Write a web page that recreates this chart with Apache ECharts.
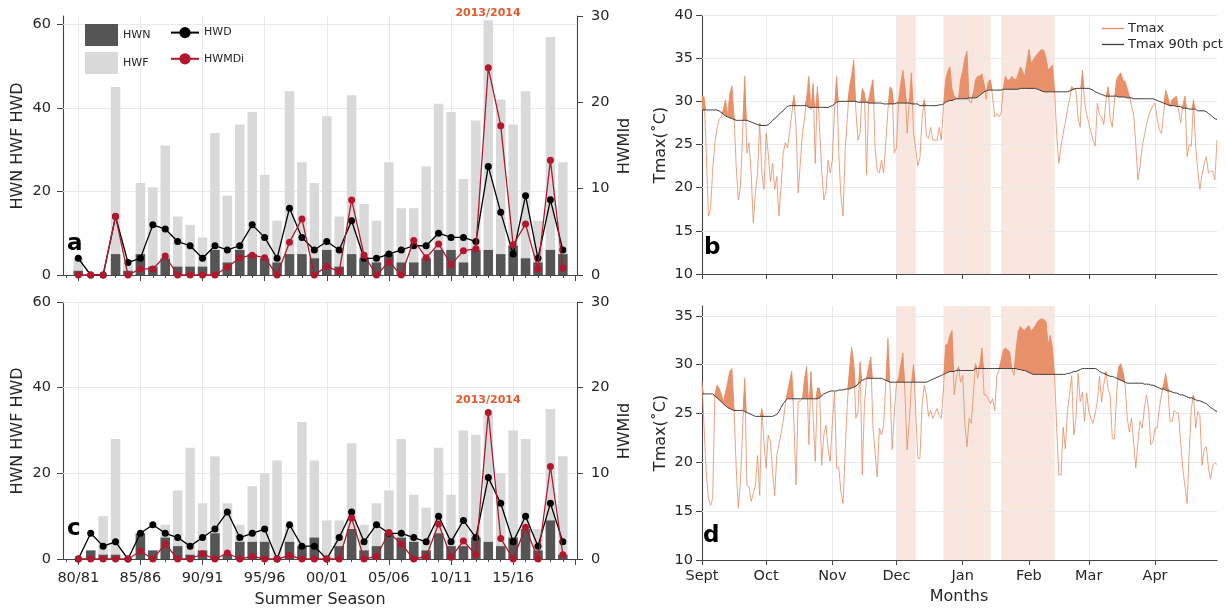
<!DOCTYPE html>
<html><head><meta charset="utf-8">
<script src="https://cdn.jsdelivr.net/npm/echarts@6/dist/echarts.min.js"></script>
<style>html,body{margin:0;padding:0;background:#fff}#c{width:1227px;height:613px}</style>
</head><body><div id="c"></div>
<script>
// ---------- data: heatwave indices per summer season ----------
const seasons = [1980,1981,1982,1983,1984,1985,1986,1987,1988,1989,1990,1991,1992,1993,1994,1995,1996,1997,1998,1999,
                 2000,2001,2002,2003,2004,2005,2006,2007,2008,2009,2010,2011,2012,2013,2014,2015,2016,2017,2018,2019];
const seasonLabelYears = [1980,1985,1990,1995,2000,2005,2010,2015];
const seasonMajorTicks = [1980,1985,1990,1995,2000,2005,2010,2015,2020];
const seasonMinorTicks = [1979,1980,1981,1982,1983,1984,1985,1986,1987,1988,1989,1990,1991,1992,1993,1994,1995,1996,1997,1998,1999,
                          2000,2001,2002,2003,2004,2005,2006,2007,2008,2009,2010,2011,2012,2013,2014,2015,2016,2017,2018,2019,2020];

const hwfA = [4,0,0,45,3,22,21,31,14,12,9,34,19,36,39,24,13,44,27,22,38,14,43,17,13,27,16,16,26,41,39,23,37,61,42,36,44,13,57,27];
const hwnA = [1,0,0,5,1,5,2,4,2,2,2,6,3,6,5,4,3,5,5,4,6,2,5,4,3,5,3,3,4,6,6,3,6,6,5,7,4,3,6,5];
const hwdA = [4,0,0,14,3,4,12,11,8,7,4,7,6,7,12,9,4,16,9,6,8,6,13,4,4,5,6,7,7,10,9,9,8,26,15,5,19,4,18,6];
const hwmdiA = [0,0,0,6.8,0,0.7,0.7,2.2,0,0,0,0,0.9,2.0,2.3,2.0,0,3.8,6.5,0,1.0,0.4,8.7,2.3,0,1.5,0,4.0,2.0,3.6,1.2,2.8,3.05,24.0,17.3,3.5,5.9,0.7,13.3,0.8];

const hwfC = [0,2,10,28,0,6,2,8,16,26,13,24,13,8,17,20,23,8,32,23,9,9,27,8,13,16,28,15,12,26,15,30,29,34,20,30,28,7,35,24];
const hwnC = [0,2,1,1,0,6,2,5,3,1,2,6,1,4,4,4,0,4,3,5,0,3,7,2,3,6,5,4,2,6,3,3,5,4,3,5,7,2,9,1];
const hwdC = [0,6,3,4,0,6,8,6,5,3,5,7,11,5,6,7,0,8,3,3,0,5,11,4,8,6,6,5,4,10,4,9,5,19,13,4,10,3,13,4];
const hwmdiC = [0,0,0,0,0,0.9,0,1.75,0,0,0.6,0,0.7,0,0.3,0,0,0.4,0,0,0,0,4.8,0,0.3,3.1,1.75,0,0.3,4.1,0.2,2.1,0.5,17.1,2.4,0,3.7,0,10.8,0.5];

// ---------- data: daily Tmax, 1 Sept .. 30 Apr (day index 0..241) ----------
const monthDays = [0,30,61,91,122,153,181,212];
const monthLabels = ['Sept','Oct','Nov','Dec','Jan','Feb','Mar','Apr'];
const bands = [[91,100],[113,135],[140,165]];

const tmaxB = [30.6,30.5,24,16.7,17.5,22,25.2,26.8,27.9,28.2,
29.0,30.2,28.4,30.9,31.8,28.2,22.5,18.6,20.1,26.3,
32.9,24.0,25.2,21.7,15.9,19.4,21.7,27.5,21.7,19.8,
26.3,24.0,20.7,22.8,19.8,21.3,16.7,20.1,24.0,25.2,
24.6,26.5,28.5,30.7,26.9,19.4,22.8,26.3,28,30.5,
32.9,29.0,32.1,22.8,31.7,27,22,18.6,19.5,23.2,
21.7,23.2,29,32.9,24.0,19,16.7,24.4,28,31.7,
33,34.8,29.0,25.5,26.3,31.5,31.0,21.5,30.2,31.5,
32.5,24.6,22,21.7,23.2,21.7,25.2,29,31.7,31.3,
24.0,24.6,30.2,32,33.6,31.7,26.3,30,33.3,26.3,
24.5,22.5,23.5,27.9,30.2,26,25.7,27,25.5,25.5,
25.5,27,25.5,29.4,32.5,33.5,34.0,31.5,30.6,30.4,
30.2,32.5,33.5,35.0,35.8,30,29.8,31,32.5,32.9,
32.9,33.2,32,30.2,32.3,32.5,30.5,28.2,28.6,28.2,
28.6,31.5,32.9,32.4,32.5,32.9,32.6,32.5,33.2,34.0,
33.5,32.9,34.5,36.0,34.4,34.8,35.2,35.5,35.8,36.0,
35.9,35.0,33.6,33.9,34.2,31.3,26,22.8,24.8,26.3,
27.5,29,30.2,31.7,31.5,31.3,28,27,33.6,30,
28.5,27.5,26.5,25.5,24.8,29.8,28.5,28.2,27.3,30,
31.7,28,27,30,32.5,33.0,33.3,32.5,32.3,31.5,
30.6,29.5,28.5,25,20.9,22.5,24.8,26,27.3,28.3,
29,29.5,29.8,28,26.7,26.3,28.5,31.3,30.5,29.4,
30.2,30.4,30.6,29,27.5,29.5,30.6,23.6,25,24.8,
30.2,24.8,22,19.8,21.5,22.8,23.6,21.7,21.9,21.9,
20.9,25.5];
const pctB = [29.0,29.0,29.0,29.0,29.0,29.0,29.0,29.0,28.9,28.7,
28.5,28.3,28.2,28.1,28.0,27.9,27.8,27.8,27.8,27.8,
27.8,27.8,27.7,27.6,27.5,27.4,27.3,27.2,27.2,27.2,
27.2,27.3,27.5,27.8,28.0,28.2,28.5,28.7,28.9,29.2,
29.4,29.5,29.5,29.5,29.5,29.5,29.5,29.5,29.5,29.5,
29.3,29.3,29.3,29.3,29.3,29.3,29.3,29.3,29.3,29.3,
29.4,29.5,29.7,29.9,30.0,30.0,30.0,30.0,30.0,30.0,
30.0,30.0,30.0,29.9,29.9,29.9,29.9,29.9,29.8,29.8,
29.8,29.8,29.8,29.8,29.8,29.7,29.7,29.7,29.7,29.7,
29.7,29.8,29.8,29.8,29.8,29.8,29.8,29.8,29.7,29.7,
29.7,29.7,29.5,29.5,29.5,29.5,29.5,29.5,29.5,29.5,
29.5,29.6,29.6,29.7,29.9,30.0,30.1,30.1,30.2,30.3,
30.3,30.3,30.3,30.3,30.3,30.4,30.4,30.4,30.4,30.5,
30.7,30.9,31.1,31.2,31.3,31.3,31.3,31.3,31.3,31.3,
31.3,31.4,31.4,31.4,31.4,31.4,31.4,31.4,31.4,31.5,
31.5,31.5,31.5,31.5,31.5,31.5,31.5,31.4,31.3,31.2,
31.1,31.1,31.1,31.1,31.1,31.1,31.1,31.1,31.1,31.1,
31.1,31.1,31.2,31.3,31.4,31.5,31.5,31.5,31.5,31.5,
31.5,31.5,31.4,31.3,31.1,31.0,30.9,30.8,30.7,30.6,
30.6,30.6,30.6,30.6,30.6,30.5,30.5,30.5,30.5,30.4,
30.4,30.4,30.3,30.3,30.3,30.3,30.3,30.3,30.3,30.3,
30.3,30.3,30.2,30.1,30.0,29.9,29.8,29.7,29.6,29.5,
29.5,29.5,29.4,29.4,29.4,29.2,29.2,29.2,29.1,29.1,
29.1,29.1,28.9,28.9,28.9,28.9,28.8,28.6,28.4,28.2,
28.0,27.9];

const tmaxD = [28.2,23.5,19,16.3,15.6,16.3,26.9,27.9,27.6,27,
26.2,27.2,28.2,29.3,29.6,25.5,19.4,15.3,18.0,23.5,
28.6,17.7,17.5,16.0,16.8,17.7,20.7,16.6,25.5,22.1,
19.4,22.8,22.1,19.0,16.6,20.7,21.8,23,24.2,25.9,
27.2,28.3,29.3,24.2,17.7,26.2,26.3,26.5,28.6,29.8,
21.8,29.3,24.8,20.1,27.6,27.6,19.7,22.8,23.8,21.4,
20.1,24,27.2,19.4,19.5,17,15.8,21.1,25.9,29.5,
31.8,30.3,24.5,25.2,30.3,18.7,25.9,28.6,29.8,30.8,
23.5,21,18.5,23.5,22.8,23.8,28,32.7,27.6,21.3,
25,28.1,28.6,30,31.2,26.9,21.3,24.2,28,30.0,
25.2,20.4,20.4,26,27.9,26.9,24.7,25.3,24.5,25.0,
25.5,24.8,24.5,27.5,32.0,32.1,33.0,33.5,26.9,28.6,
29.8,28.2,28.9,24,21.6,24.5,24.0,27,30.1,28.6,
30,31.7,26.9,26.9,26.5,26.0,26.5,25.3,28.9,29.4,
30.5,31.5,31.7,31.5,31.3,29.5,28.9,31.7,33.4,33.9,
33.6,33.5,33.8,34.0,33.4,33.7,34.0,34.4,34.6,34.7,
34.6,34.4,32.0,33.0,31.7,28.9,23.5,18.7,18.7,23.6,
21.4,25.2,26.9,28.9,22.8,24.5,29.1,26.2,27.2,24.2,
27.1,25.2,24.5,24.0,25,26.2,28.8,26.2,27.9,29.3,
27.5,26.9,22.4,22.4,26.9,29.8,30.1,29.3,27.9,24.5,
23.1,24.5,22,19.4,22.1,24.2,23.5,25.5,26.9,25.5,
21.8,22.1,23.5,23.5,25.5,26.9,27.9,29.1,27.7,24.2,
24.2,25.3,25.1,25,22,19.4,17.5,15.8,21.1,25.5,
26.9,23.5,25.2,24.8,19.7,21.4,21.6,19.4,18.3,19.7,
19.9,19.8];
const pctD = [27.0,27.0,27.0,27.0,27.0,27.0,26.8,26.6,26.4,26.2,
26.0,25.8,25.6,25.5,25.4,25.3,25.3,25.3,25.3,25.3,
25.2,25.1,25.0,24.9,24.8,24.7,24.7,24.7,24.7,24.7,
24.7,24.7,24.7,24.7,24.8,24.9,25.2,25.6,26.0,26.3,
26.5,26.5,26.5,26.5,26.5,26.5,26.5,26.5,26.5,26.5,
26.5,26.5,26.5,26.5,26.5,26.6,26.8,27.0,27.1,27.2,
27.3,27.3,27.3,27.3,27.4,27.4,27.4,27.5,27.5,27.5,
27.6,27.7,27.8,28.0,28.2,28.4,28.5,28.6,28.6,28.6,
28.6,28.6,28.6,28.6,28.6,28.5,28.4,28.3,28.2,28.2,
28.2,28.2,28.2,28.2,28.2,28.2,28.2,28.2,28.2,28.2,
28.2,28.2,28.2,28.2,28.2,28.2,28.3,28.4,28.5,28.6,
28.7,28.8,28.9,29.0,29.1,29.2,29.3,29.3,29.3,29.4,
29.4,29.4,29.4,29.4,29.4,29.4,29.4,29.4,29.6,29.6,
29.6,29.6,29.6,29.6,29.6,29.6,29.6,29.6,29.6,29.6,
29.6,29.6,29.6,29.6,29.6,29.6,29.6,29.6,29.5,29.5,
29.4,29.4,29.3,29.2,29.1,29.0,29.0,29.0,29.0,29.0,
29.0,29.0,29.0,29.0,29.0,29.0,29.0,29.0,29.0,29.0,
29.0,29.1,29.1,29.2,29.3,29.3,29.4,29.5,29.6,29.6,
29.6,29.6,29.6,29.6,29.6,29.5,29.3,29.2,29.1,29.0,
28.9,28.8,28.8,28.7,28.6,28.5,28.4,28.3,28.2,28.1,
28.1,28.1,28.1,28.1,28.1,28.1,28.1,28.0,28.0,28.0,
27.9,27.9,27.8,27.7,27.6,27.5,27.5,27.4,27.3,27.3,
27.2,27.1,27.1,27.0,26.9,26.9,26.8,26.7,26.6,26.6,
26.5,26.4,26.3,26.3,26.2,26.1,26.0,25.8,25.6,25.5,
25.3,25.2];

// ---------- rendering ----------
const FONT = 'DejaVu Sans';
const TXT = '#262626';
const AX = '#444';
const GRIDC = '#e9e9e9';
const C_HWF = '#d9d9d9', C_HWN = '#555555', C_HWD = '#000000', C_HWMDI = '#b3172f';
const C_TMAX = '#e68d66', C_FILL = '#e8906a', C_PCT = '#3c3c3c', C_BAND = '#f9e6df', C_NOTE = '#e2592b';

const pair = (xs, ys) => xs.map((x, i) => [x, ys[i]]);
const dayIdx = tmaxB.map((_, i) => i);
const isMonthStart = i => monthDays.indexOf(i) >= 0;
const seasonLabel = v => String(v % 100).padStart(2, '0') + '/' + String((v + 1) % 100).padStart(2, '0');
const gridLines = (xs, ys) => ({
  silent: true, z: 1, symbol: ['none', 'none'], label: {show: false}, animation: false,
  emphasis: {disabled: true},
  lineStyle: {color: GRIDC, width: 1, type: 'solid'},
  data: xs.map(v => ({xAxis: v})).concat(ys.map(v => ({yAxis: v})))
});

const L = {a: {left: 63, top: 16, width: 514, height: 259}, c: {left: 63, top: 302, width: 514, height: 257},
           b: {left: 702, top: 15, width: 515, height: 259}, d: {left: 702, top: 306, width: 515, height: 254}};

function seasonX(gi, showLabels) {
  return {type: 'value', gridIndex: gi, min: 1978.77, max: 2020.14, position: 'bottom',
    axisLine: {show: true, onZero: false, lineStyle: {color: AX, width: 1.1}},
    axisTick: {show: true, customValues: seasonMajorTicks, length: 6, lineStyle: {color: AX}},
    axisLabel: {show: showLabels, customValues: seasonLabelYears, formatter: v => seasonLabel(v),
                fontFamily: FONT, fontSize: 14.5, color: TXT, margin: 12},
    splitLine: {show: false}};
}
function seasonMinorX(gi) {
  return {type: 'value', gridIndex: gi, min: 1978.77, max: 2020.14, position: 'bottom', offset: 0,
    axisLine: {show: false, onZero: false},
    axisTick: {show: true, customValues: seasonMinorTicks, length: 3, lineStyle: {color: AX}},
    axisLabel: {show: false}, splitLine: {show: false}};
}
function leftY(gi, max) {
  return {type: 'value', gridIndex: gi, min: 0, max: max, interval: 20, position: 'left',
    axisLine: {show: true, lineStyle: {color: AX, width: 1.1}},
    axisTick: {show: true, customValues: [0, 20, 40, 60], length: 6, lineStyle: {color: AX}},
    axisLabel: {customValues: [0, 20, 40, 60], formatter: v => (v > 60 ? '' : String(v)),
                fontFamily: FONT, fontSize: 14.5, color: TXT, margin: 12},
    splitLine: {show: false}};
}
function rightY(gi) {
  return {type: 'value', gridIndex: gi, min: 0, max: 30, interval: 10, position: 'right',
    axisLine: {show: true, lineStyle: {color: AX, width: 1.1}},
    axisTick: {show: true, length: 6, lineStyle: {color: AX}},
    axisLabel: {fontFamily: FONT, fontSize: 14.5, color: TXT, margin: 14},
    splitLine: {show: false}};
}
function dayX(gi, showLabels) {
  return {type: 'category', gridIndex: gi, data: dayIdx, boundaryGap: false,
    axisLine: {show: true, onZero: false, lineStyle: {color: AX, width: 1.1}},
    axisTick: {show: true, interval: (i) => isMonthStart(i), length: 5, lineStyle: {color: AX}},
    axisLabel: {show: showLabels, interval: (i) => isMonthStart(i), formatter: (v, i) => monthLabels[monthDays.indexOf(i)],
                fontFamily: FONT, fontSize: 14.5, color: TXT, margin: 9},
    splitLine: {show: false}};
}
function tempY(gi, max) {
  const vals = []; for (let v = 10; v <= Math.min(max, 40); v += 5) vals.push(v);
  return {type: 'value', gridIndex: gi, min: 10, max: max, interval: 5,
    axisLine: {show: true, lineStyle: {color: AX, width: 1.1}},
    axisTick: {show: true, customValues: vals, length: 6, lineStyle: {color: AX}},
    axisLabel: {customValues: vals, formatter: v => (vals.includes(v) ? String(v) : ''),
                fontFamily: FONT, fontSize: 14.5, color: TXT, margin: 9},
    splitLine: {show: false}};
}

function hwSeries(xi, yl, yr, hwf, hwn, hwd, hwmdi) {
  return [
    {name: 'HWF', type: 'bar', xAxisIndex: xi, yAxisIndex: yl, data: pair(seasons, hwf), barWidth: 9.5, barGap: '-100%',
     itemStyle: {color: C_HWF}, z: 2, markLine: gridLines(seasonLabelYears, [20, 40, 60])},
    {name: 'HWN', type: 'bar', xAxisIndex: xi, yAxisIndex: yl, data: pair(seasons, hwn), barWidth: 9.5, barGap: '-100%',
     itemStyle: {color: C_HWN}, z: 2},
    {name: 'HWD', type: 'line', xAxisIndex: xi, yAxisIndex: yl, data: pair(seasons, hwd), symbol: 'circle', symbolSize: 7,
     itemStyle: {color: C_HWD}, lineStyle: {color: C_HWD, width: 1.3}, z: 3},
    {name: 'HWMDi', type: 'line', xAxisIndex: xi, yAxisIndex: yr, data: pair(seasons, hwmdi), symbol: 'circle', symbolSize: 7,
     itemStyle: {color: C_HWMDI}, lineStyle: {color: C_HWMDI, width: 1.3}, z: 4}
  ];
}
function tSeries(xi, yi, tmax, pct, hLines, stackId) {
  const exceed = tmax.map((t, i) => Math.max(0, +(t - pct[i]).toFixed(2)));
  return [
    {name: 'base' + stackId, type: 'line', xAxisIndex: xi, yAxisIndex: yi, stack: stackId, data: pct,
     symbol: 'none', lineStyle: {width: 0, opacity: 0}, z: 2, silent: true,
     markArea: {silent: true, z: 1, itemStyle: {color: C_BAND}, data: bands.map(b => [{xAxis: b[0]}, {xAxis: b[1]}])},
     markLine: gridLines(monthDays.slice(1), hLines)},
    {name: 'exceed' + stackId, type: 'line', xAxisIndex: xi, yAxisIndex: yi, stack: stackId, data: exceed,
     symbol: 'none', lineStyle: {width: 0, opacity: 0}, areaStyle: {color: C_FILL, opacity: 1}, z: 2, silent: true},
    {name: 'Tmax', type: 'line', xAxisIndex: xi, yAxisIndex: yi, data: tmax, symbol: 'none',
     itemStyle: {color: C_TMAX}, lineStyle: {color: C_TMAX, width: 0.9, opacity: 0.9}, z: 3},
    {name: 'Tmax 90th pct', type: 'line', xAxisIndex: xi, yAxisIndex: yi, data: pct, symbol: 'none',
     itemStyle: {color: C_PCT}, lineStyle: {color: C_PCT, width: 1}, z: 4}
  ];
}

const txt = (text, x, y, opts = {}) => ({
  type: 'text', x: x, y: y, rotation: opts.rot || 0, z: 100,
  style: {text: text, fill: opts.color || TXT, font: (opts.weight || 'normal') + ' ' + (opts.size || 16) + 'px "' + FONT + '"',
          align: opts.align || 'center', verticalAlign: 'middle'}
});

const option = {
  animation: false,
  backgroundColor: '#fff',
  grid: [L.a, L.c, L.b, L.d].map(g => Object.assign({containLabel: false}, g)),
  xAxis: [seasonX(0, false), seasonX(1, true), dayX(2, false), dayX(3, true), seasonMinorX(0), seasonMinorX(1)],
  yAxis: [leftY(0, 62), rightY(0), leftY(1, 60), rightY(1), tempY(2, 40), tempY(3, 36)],
  legend: [
    {data: ['HWN', 'HWF'], orient: 'vertical', left: 80, top: 19, itemWidth: 33, itemHeight: 22, itemGap: 6, icon: 'rect',
     textStyle: {fontFamily: FONT, fontSize: 11, color: TXT}, selectedMode: false},
    {data: ['HWD', 'HWMDi'], orient: 'vertical', left: 165, top: 22, itemWidth: 28, itemHeight: 14, itemGap: 15,
     textStyle: {fontFamily: FONT, fontSize: 11, color: TXT}, selectedMode: false},
    {data: [{name: 'Tmax', icon: 'rect'}, {name: 'Tmax 90th pct', icon: 'rect'}], orient: 'vertical', left: 1097, top: 17,
     itemWidth: 22, itemHeight: 1.3, itemGap: 3,
     textStyle: {fontFamily: FONT, fontSize: 13, color: TXT, padding: [0, 0, 0, -1]}, selectedMode: false}
  ],
  series: [].concat(
    hwSeries(0, 0, 1, hwfA, hwnA, hwdA, hwmdiA),
    hwSeries(1, 2, 3, hwfC, hwnC, hwdC, hwmdiC),
    tSeries(2, 4, tmaxB, pctB, [15, 20, 25, 30, 35, 40], 'sb'),
    tSeries(3, 5, tmaxD, pctD, [15, 20, 25, 30, 35], 'sd')
  ),
  graphic: [
    txt('HWN HWF HWD', 18, 146, {rot: Math.PI / 2}),
    txt('HWN HWF HWD', 18, 431, {rot: Math.PI / 2}),
    txt('HWMId', 625, 146, {rot: Math.PI / 2}),
    txt('HWMId', 625, 431, {rot: Math.PI / 2}),
    txt('Tmax(˚C)', 661, 145, {rot: Math.PI / 2}),
    txt('Tmax(˚C)', 661, 433, {rot: Math.PI / 2}),
    txt('Summer Season', 320, 600),
    txt('Months', 959, 597),
    txt('2013/2014', 488, 13, {color: C_NOTE, weight: 'bold', size: 11}),
    txt('2013/2014', 488, 400, {color: C_NOTE, weight: 'bold', size: 11}),
    txt('a', 67, 244, {weight: 'bold', size: 23, align: 'left', color: '#000'}),
    txt('c', 67, 529, {weight: 'bold', size: 23, align: 'left', color: '#000'}),
    txt('b', 704, 248, {weight: 'bold', size: 23, align: 'left', color: '#000'}),
    txt('d', 703, 536, {weight: 'bold', size: 23, align: 'left', color: '#000'})
  ]
};
const chart = echarts.init(document.getElementById('c'), null, {renderer: 'canvas'});
chart.setOption(option);
</script>
</body></html>
